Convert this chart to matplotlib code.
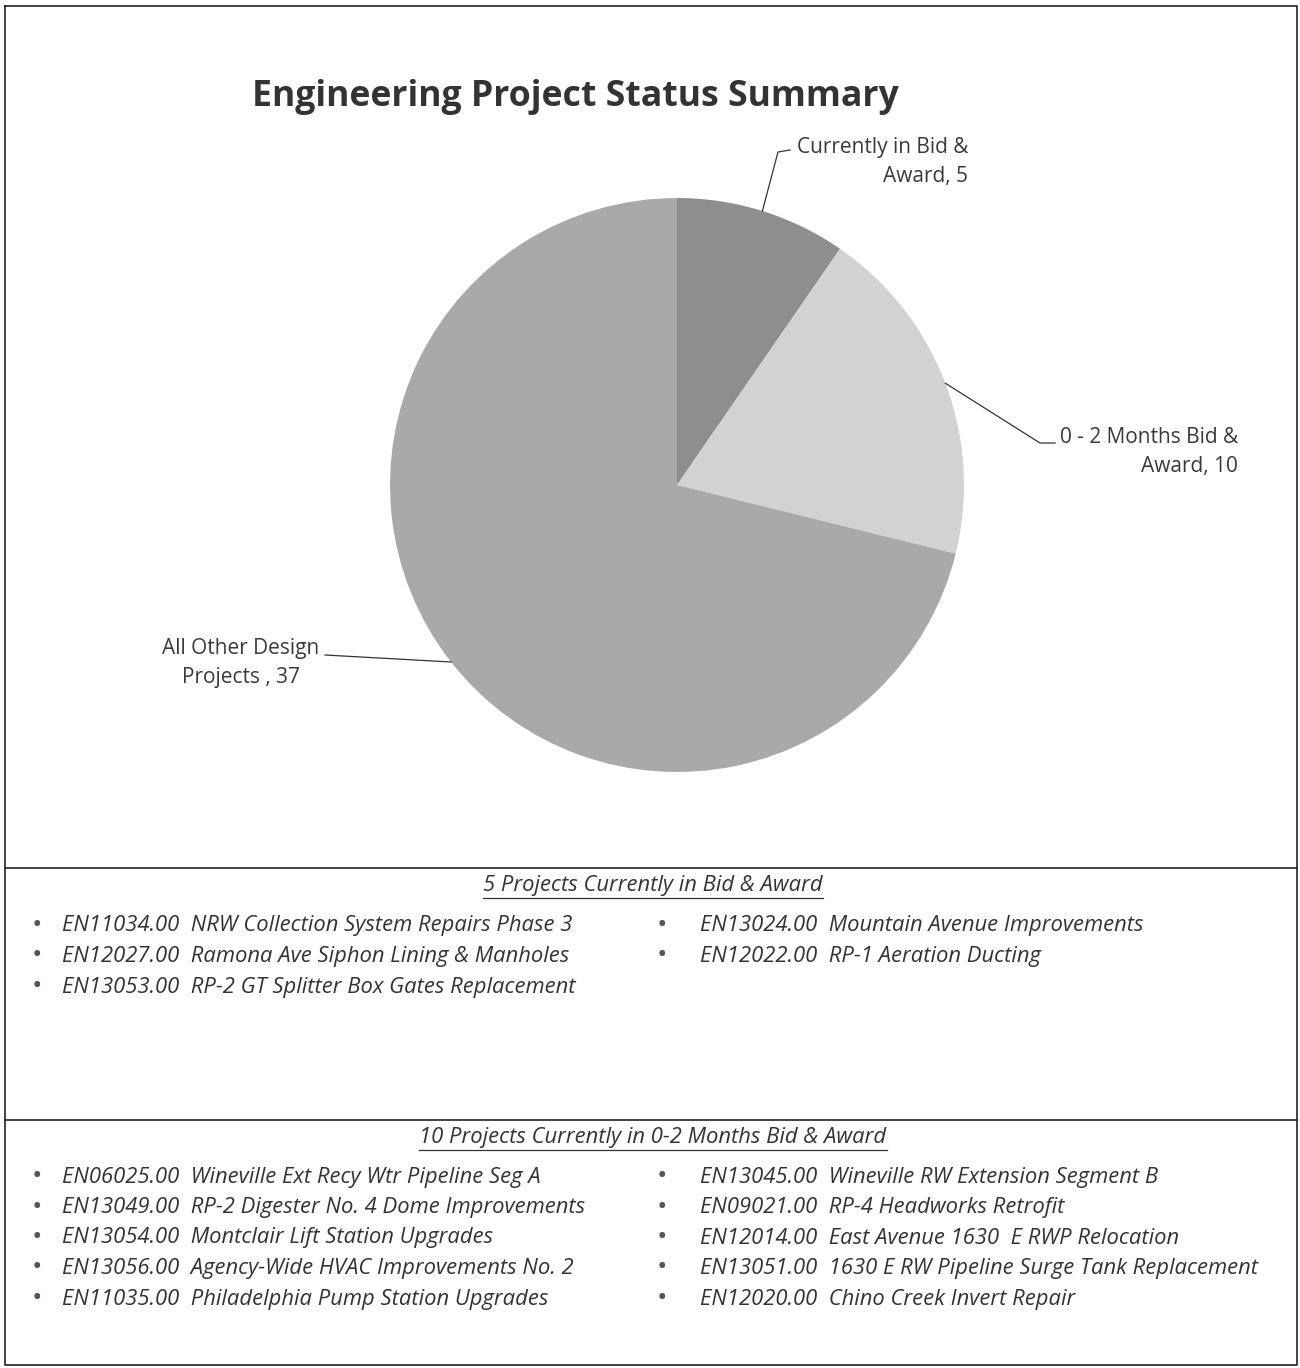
import numpy as np
import matplotlib
matplotlib.use('Agg')
import matplotlib.pyplot as plt
from matplotlib.lines import Line2D

plt.rcParams['font.family'] = ['Open Sans', 'DejaVu Sans']

# Pie data
categories = ['Currently in Bid &\nAward, 5', '0 - 2 Months Bid &\nAward, 10', 'All Other Design\nProjects , 37']
counts = [5, 10, 37]
colors = ['#8e8e8e', '#d2d2d2', '#a9a9a9']

# Project lists
bid_award_left = ['EN11034.00  NRW Collection System Repairs Phase 3',
                  'EN12027.00  Ramona Ave Siphon Lining & Manholes',
                  'EN13053.00  RP-2 GT Splitter Box Gates Replacement']
bid_award_right = ['EN13024.00  Mountain Avenue Improvements',
                   'EN12022.00  RP-1 Aeration Ducting']
months_left = ['EN06025.00  Wineville Ext Recy Wtr Pipeline Seg A',
               'EN13049.00  RP-2 Digester No. 4 Dome Improvements',
               'EN13054.00  Montclair Lift Station Upgrades',
               'EN13056.00  Agency-Wide HVAC Improvements No. 2',
               'EN11035.00  Philadelphia Pump Station Upgrades']
months_right = ['EN13045.00  Wineville RW Extension Segment B',
                'EN09021.00  RP-4 Headworks Retrofit',
                'EN12014.00  East Avenue 1630  E RWP Relocation',
                'EN13051.00  1630 E RW Pipeline Surge Tank Replacement',
                'EN12020.00  Chino Creek Invert Repair']

W, H = 1300, 1368
fig = plt.figure(figsize=(W / 100, H / 100), dpi=100)

def fx(px):
    return px / W

def fy(py):
    return 1 - py / H

def fline(xs, ys, lw=1.0, color='#222222'):
    fig.add_artist(Line2D([fx(x) for x in xs], [fy(y) for y in ys],
                          transform=fig.transFigure, lw=lw, color=color))

# frame and section dividers
fline([5, 1297, 1297, 5, 5], [6, 6, 1365, 1365, 6], lw=1.2)
fline([5, 1297], [868, 868], lw=1.2)
fline([5, 1297], [1120, 1120], lw=1.2)

# pie axes: centre (677, 485), radius 287 px
cx, cy, r = 677, 485, 287
ax = fig.add_axes([fx(cx - r), fy(cy + r), 2 * r / W, 2 * r / H])
wedges, _ = ax.pie(counts, colors=colors, startangle=90, counterclock=False,
                   radius=1, wedgeprops=dict(linewidth=0))
ax.set_xlim(-1, 1)
ax.set_ylim(-1, 1)
ax.set_aspect('auto')
ax.axis('off')

fig.text(fx(575), fy(97), 'Engineering Project Status Summary', ha='center', va='center',
         fontsize=25.7, fontweight='bold', color='#333333')

# label positions (pixels) : text anchor, elbow point, stub end, alignment
label_pos = [((968, 162), (778, 152), (790, 150), 'right'),
             ((1238, 452), (1040, 443), (1055, 443), 'right'),
             ((241, 663), (325, 655), (325, 655), 'center')]

for w, lab, (tpos, elbow, stub, ha) in zip(wedges, categories, label_pos):
    mid = np.deg2rad((w.theta1 + w.theta2) / 2)
    ex = cx + r * np.cos(mid)
    ey = cy - r * np.sin(mid)
    fline([ex, elbow[0], stub[0]], [ey, elbow[1], stub[1]], lw=0.9, color='#333333')
    fig.text(fx(tpos[0]), fy(tpos[1]), lab, ha=ha, va='center', fontsize=15,
             color='#3a3a3a', linespacing=1.45, multialignment='right' if ha == 'right' else 'center')

def draw_list(header, hy, left, right, y0, dy):
    t = fig.text(fx(653), fy(hy), header, ha='center', va='center', fontsize=15.8,
                 style='italic', color='#333333')
    fig.canvas.draw()
    bb = t.get_window_extent()
    fig.add_artist(Line2D([bb.x0 / W, bb.x1 / W], [fy(hy + 12)] * 2,
                          transform=fig.transFigure, lw=0.9, color='#333333'))
    for col, items, bx, tx in [(0, left, 37, 62), (1, right, 662, 700)]:
        for i, s in enumerate(items):
            y = y0 + i * dy
            fig.text(fx(bx), fy(y), '•', ha='center', va='center', fontsize=20, color='#555555')
            fig.text(fx(tx), fy(y), s, ha='left', va='center', fontsize=15.8,
                     style='italic', color='#333333')

draw_list('5 Projects Currently in Bid & Award', 886, bid_award_left, bid_award_right, 926, 30.5)
draw_list('10 Projects Currently in 0-2 Months Bid & Award', 1138, months_left, months_right, 1177, 30.5)

fig.savefig('out.png', dpi=100, facecolor='white')
